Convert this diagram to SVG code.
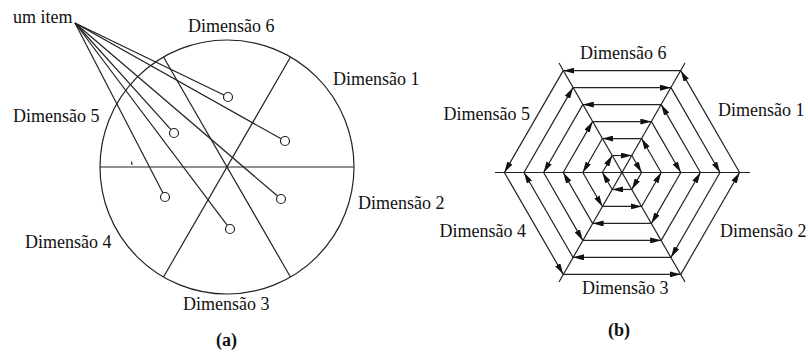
<svg xmlns="http://www.w3.org/2000/svg" width="808" height="354" viewBox="0 0 808 354">
<defs>
<style>
.ln{stroke:#222;stroke-width:1.2;fill:none}
.dot{stroke:#222;stroke-width:1.2;fill:#fff}
.e{stroke:#222;stroke-width:1.2;fill:none;marker-end:url(#ah)}
.t{font-family:"Liberation Serif","Times New Roman",serif;font-size:18px;fill:#111}
.b{font-family:"Liberation Serif","Times New Roman",serif;font-size:18px;font-weight:bold;fill:#111}
</style>
<marker id="ah" viewBox="0 0 11 6" refX="11" refY="3" markerWidth="11" markerHeight="6" markerUnits="userSpaceOnUse" orient="auto">
<path d="M0,0 L11,3 L0,6 z" fill="#111"/>
</marker>
</defs>
<rect width="808" height="354" fill="#fff"/>

<!-- (a) -->
<g id="diagram-a">
<g id="circle-a">
<circle class="ln" cx="227" cy="167" r="127"/>
<line class="ln" x1="100" y1="167" x2="354" y2="167"/>
<line class="ln" x1="163.5" y1="57" x2="290.5" y2="277"/>
<line class="ln" x1="290.5" y1="57" x2="163.5" y2="277"/>
<path class="ln" d="M131.5,161.5 L132,165" stroke-width="0.8"/>
</g>
<g id="item-lines">
<line class="ln" x1="75" y1="23" x2="223.95" y2="95.04"/>
<line class="ln" x1="75" y1="23" x2="170.99" y2="129.66"/>
<line class="ln" x1="75" y1="23" x2="281.08" y2="138.8"/>
<line class="ln" x1="75" y1="23" x2="162.93" y2="193"/>
<line class="ln" x1="75" y1="23" x2="277.58" y2="196.08"/>
<line class="ln" x1="75" y1="23" x2="227.29" y2="225.4"/>
</g>
<g id="item-points">
<circle class="dot" cx="228" cy="97" r="4.5"/>
<circle class="dot" cx="174" cy="133" r="4.5"/>
<circle class="dot" cx="285" cy="141" r="4.5"/>
<circle class="dot" cx="165" cy="197" r="4.5"/>
<circle class="dot" cx="281" cy="199" r="4.5"/>
<circle class="dot" cx="230" cy="229" r="4.5"/>
</g>
<g id="labels-a">
<text class="t" x="13" y="23">um item</text>
<text class="t" x="188" y="32">Dimensão 6</text>
<text class="t" x="333" y="85">Dimensão 1</text>
<text class="t" x="13" y="122">Dimensão 5</text>
<text class="t" x="358" y="209">Dimensão 2</text>
<text class="t" x="25" y="248">Dimensão 4</text>
<text class="t" x="183" y="310">Dimensão 3</text>
<text class="b" x="216" y="346">(a)</text>
</g>
</g>

<!-- (b) -->
<g id="diagram-b">
<g id="axes-b" transform="translate(622,172.5)">
<line class="ln" x1="-127" y1="0" x2="128" y2="0"/>
<line class="ln" x1="-63" y1="-109.5" x2="63" y2="109.5"/>
<line class="ln" x1="63" y1="-109.5" x2="-63" y2="109.5"/>
</g>
<g id="spiral-b" transform="translate(622,172.5)">
<!-- ring 6, CCW -->
<g id="ring6">
<line class="e" x1="58.8" y1="-101.84" x2="-58.8" y2="-101.84"/>
<line class="e" x1="-58.8" y1="-101.84" x2="-117.6" y2="0"/>
<line class="e" x1="-117.6" y1="0" x2="-58.8" y2="101.84"/>
<line class="e" x1="-58.8" y1="101.84" x2="58.8" y2="101.84"/>
<line class="e" x1="58.8" y1="101.84" x2="117.6" y2="0"/>
<line class="e" x1="117.6" y1="0" x2="58.8" y2="-101.84"/>
</g>
<!-- ring 5, CW -->
<g id="ring5">
<line class="e" x1="-49" y1="-84.87" x2="49" y2="-84.87"/>
<line class="e" x1="49" y1="-84.87" x2="98" y2="0"/>
<line class="e" x1="98" y1="0" x2="49" y2="84.87"/>
<line class="e" x1="49" y1="84.87" x2="-49" y2="84.87"/>
<line class="e" x1="-49" y1="84.87" x2="-98" y2="0"/>
<line class="e" x1="-98" y1="0" x2="-49" y2="-84.87"/>
</g>
<!-- ring 4, CCW -->
<g id="ring4">
<line class="e" x1="39.2" y1="-67.9" x2="-39.2" y2="-67.9"/>
<line class="e" x1="-39.2" y1="-67.9" x2="-78.4" y2="0"/>
<line class="e" x1="-78.4" y1="0" x2="-39.2" y2="67.9"/>
<line class="e" x1="-39.2" y1="67.9" x2="39.2" y2="67.9"/>
<line class="e" x1="39.2" y1="67.9" x2="78.4" y2="0"/>
<line class="e" x1="78.4" y1="0" x2="39.2" y2="-67.9"/>
</g>
<!-- ring 3, CW -->
<g id="ring3">
<line class="e" x1="-29.4" y1="-50.92" x2="29.4" y2="-50.92"/>
<line class="e" x1="29.4" y1="-50.92" x2="58.8" y2="0"/>
<line class="e" x1="58.8" y1="0" x2="29.4" y2="50.92"/>
<line class="e" x1="29.4" y1="50.92" x2="-29.4" y2="50.92"/>
<line class="e" x1="-29.4" y1="50.92" x2="-58.8" y2="0"/>
<line class="e" x1="-58.8" y1="0" x2="-29.4" y2="-50.92"/>
</g>
<!-- ring 2, CCW -->
<g id="ring2">
<line class="e" x1="19.6" y1="-33.95" x2="-19.6" y2="-33.95"/>
<line class="e" x1="-19.6" y1="-33.95" x2="-39.2" y2="0"/>
<line class="e" x1="-39.2" y1="0" x2="-19.6" y2="33.95"/>
<line class="e" x1="-19.6" y1="33.95" x2="19.6" y2="33.95"/>
<line class="e" x1="19.6" y1="33.95" x2="39.2" y2="0"/>
<line class="e" x1="39.2" y1="0" x2="19.6" y2="-33.95"/>
</g>
<!-- ring 1, CW -->
<g id="ring1">
<line class="e" x1="-9.8" y1="-16.97" x2="9.8" y2="-16.97"/>
<line class="e" x1="9.8" y1="-16.97" x2="19.6" y2="0"/>
<line class="e" x1="19.6" y1="0" x2="9.8" y2="16.97"/>
<line class="e" x1="9.8" y1="16.97" x2="-9.8" y2="16.97"/>
<line class="e" x1="-9.8" y1="16.97" x2="-19.6" y2="0"/>
<line class="e" x1="-19.6" y1="0" x2="-9.8" y2="-16.97"/>
</g>
</g>
<g id="labels-b">
<text class="t" x="580" y="59">Dimensão 6</text>
<text class="t" x="718" y="116">Dimensão 1</text>
<text class="t" x="530" y="120" text-anchor="end">Dimensão 5</text>
<text class="t" x="720" y="237">Dimensão 2</text>
<text class="t" x="526" y="237" text-anchor="end">Dimensão 4</text>
<text class="t" x="582" y="294">Dimensão 3</text>
<text class="b" x="608" y="336">(b)</text>
</g>
</g>
</svg>
